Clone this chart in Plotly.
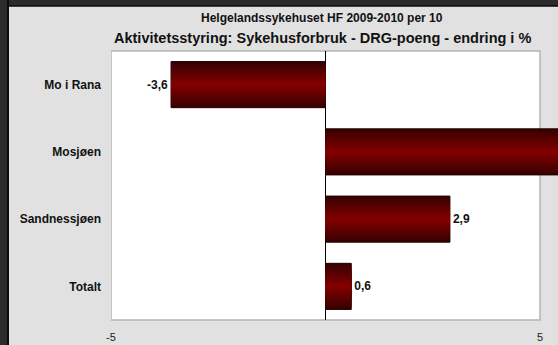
import plotly.graph_objects as go

# data
categories = ["Mo i Rana", "Mosjøen", "Sandnessjøen", "Totalt"]
values = [-3.6, 6.4, 2.9, 0.6]
x_ticks = [-5, 5]
title_1 = "Helgelandssykehuset HF 2009-2010 per 10"
title_2 = "Aktivitetsstyring: Sykehusforbruk - DRG-poeng - endring i %"

W, H = 558, 345
ML, MR, MT, MB = 111, 0, 51, 25
box_px = 429  # width of the white plot box (-5..5)
x_max = -5 + (W - ML) * 10 / box_px  # axis runs on to the page edge, bars may overflow the box
font = "Liberation Sans, Arial, sans-serif"
bg = "#e1e1e1"

# labels of bars that run off the page are not visible in the original
labels = [f"{v:.1f}".replace(".", ",") if v < x_max else "" for v in values]

fig = go.Figure()

# fake the vertical gradient by overlaying narrower, lighter bars
bar_w = 0.685
n_layers = 10
dark = (0x3a, 0x00, 0x00)
light = (0x80, 0x00, 0x00)
for i in range(n_layers):
    t = i / (n_layers - 1)
    c = tuple(int(round(d + (l - d) * t)) for d, l in zip(dark, light))
    w = bar_w * (1 - i / n_layers)
    first = i == 0
    fig.add_trace(go.Bar(
        y=categories, x=values, orientation="h", width=w,
        marker=dict(color=f"rgb{c}",
                    line=dict(color="#1a0000", width=1 if first else 0)),
        text=labels if first else None,
        textposition="outside" if first else "none",
        textfont=dict(family=font, size=12, color="#111111", weight="bold"),
        hoverinfo="skip", showlegend=False,
    ))

fig.update_layout(
    width=W, height=H,
    margin=dict(l=ML, r=MR, t=MT, b=MB, pad=0),
    paper_bgcolor=bg, plot_bgcolor=bg,
    barmode="overlay",
    font=dict(family=font, size=11, color="#111111"),
    xaxis=dict(range=[-5, x_max], tickvals=x_ticks, ticktext=[str(v) for v in x_ticks],
               showgrid=False, zeroline=True, zerolinecolor="#000000", zerolinewidth=1,
               showline=False, ticks="outside", ticklen=7, tickcolor="rgba(0,0,0,0)",
               tickfont=dict(size=11, color="#222222"), fixedrange=True),
    yaxis=dict(categoryorder="array", categoryarray=categories,
               range=[3.5, -0.5], showgrid=False, zeroline=False, showline=False,
               ticks="", tickfont=dict(size=12, color="#111111", weight="bold"),
               ticklabelstandoff=9, fixedrange=True),
)

# white plot box with grey border, from -5 to 5
fig.add_shape(type="rect", xref="x", yref="paper", x0=-5, x1=5, y0=0, y1=1,
              fillcolor="#ffffff", line=dict(color="#b4b4b4", width=1.5), layer="below")

# dark frame on left and top (pixel-sized, anchored to the plot area)
fig.add_shape(type="rect", xref="paper", yref="paper", xsizemode="pixel", ysizemode="pixel",
              xanchor=0, yanchor=0, x0=-ML, x1=-ML + 7, y0=-MB - 5, y1=H,
              fillcolor="#2b2b2b", line_width=0, layer="below")
fig.add_shape(type="rect", xref="paper", yref="paper", xsizemode="pixel", ysizemode="pixel",
              xanchor=0, yanchor=1, x0=-ML, x1=W, y0=MT - 6, y1=MT + 5,
              fillcolor="#2b2b2b", line_width=0, layer="below")
fig.add_shape(type="line", xref="paper", yref="paper", xsizemode="pixel", ysizemode="pixel",
              xanchor=0, yanchor=0, x0=-ML + 8, x1=-ML + 8, y0=-MB - 5, y1=H,
              line=dict(color="#0a0a0a", width=2), layer="below")
fig.add_shape(type="line", xref="paper", yref="paper", xsizemode="pixel", ysizemode="pixel",
              xanchor=0, yanchor=1, x0=-ML + 8, x1=W, y0=MT - 6, y1=MT - 6,
              line=dict(color="#0a0a0a", width=1.5), layer="below")

fig.add_annotation(text=f"<b>{title_1}</b>", xref="paper", yref="paper", x=0, y=1,
                   xshift=211, yshift=33, showarrow=False, xanchor="center", yanchor="middle",
                   font=dict(family=font, size=12, color="#111111"))
fig.add_annotation(text=f"<b>{title_2}</b>", xref="paper", yref="paper", x=0, y=1,
                   xshift=211, yshift=13, showarrow=False, xanchor="center", yanchor="middle",
                   font=dict(family=font, size=14.5, color="#111111"))

# drop the browser's default 8px body margin so the figure sits at 0,0
fig.write_html("out.html", config={"displayModeBar": False},
               post_script="document.body.style.margin='0';")
